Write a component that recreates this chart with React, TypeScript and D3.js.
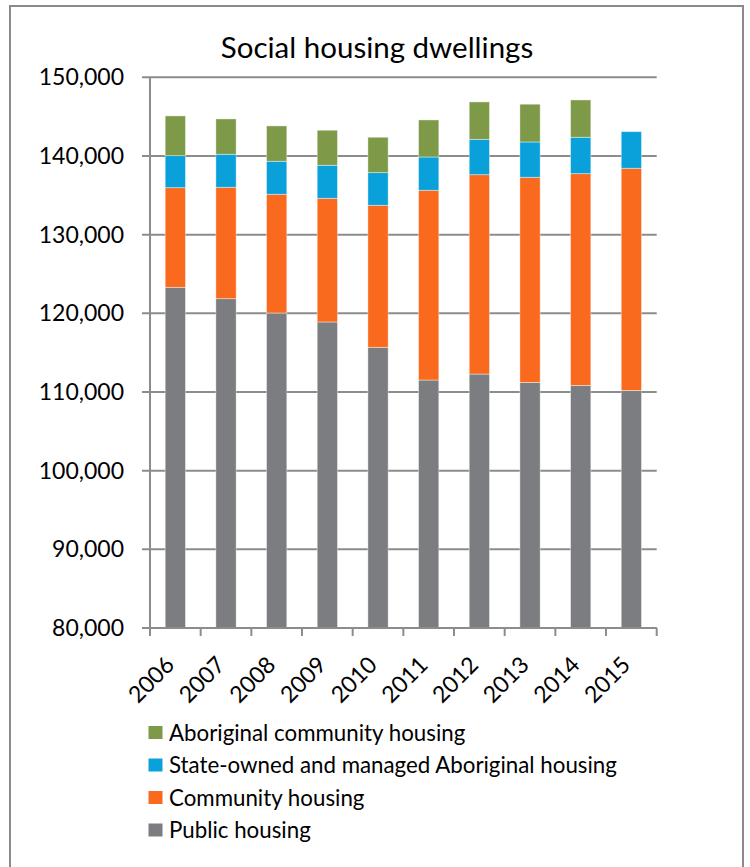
import React from "react";
import * as d3 from "d3";

const years = ["2006", "2007", "2008", "2009", "2010", "2011", "2012", "2013", "2014", "2015"];
const publicHousing = [123300, 121860, 120040, 118900, 115680, 111520, 112280, 111220, 110840, 110200];
const communityHousing = [12670, 14160, 15090, 15720, 18050, 24120, 25340, 26070, 26910, 28240];
const somih = [4070, 4200, 4200, 4200, 4150, 4230, 4500, 4490, 4630, 4650];
const aboriginalCommunity = [5050, 4490, 4490, 4450, 4500, 4710, 4750, 4800, 4740, 0];
const yTicks = [80000, 90000, 100000, 110000, 120000, 130000, 140000, 150000];

const seriesKeys = ["public", "community", "somih", "aboriginal"];
const seriesNames = ["Public housing", "Community housing", "State-owned and managed Aboriginal housing", "Aboriginal community housing"];
const seriesColors = ["#7C7D81", "#FA6A1E", "#0AA1DB", "#7E9A49"];

const FONT = "Lato, 'Open Sans', sans-serif";

export default function App() {
  const W = 750, H = 867;
  const left = 150, right = 656.7, top = 77.3, bottom = 628;

  const rows = years.map((y, i) => ({
    year: y,
    public: publicHousing[i],
    community: communityHousing[i],
    somih: somih[i],
    aboriginal: aboriginalCommunity[i],
  }));
  const stack = d3.stack<any>().keys(seriesKeys)(rows);

  const x = d3.scaleBand<string>().domain(years).range([left, right]).paddingInner(0.6).paddingOuter(0.3);
  const y = d3.scaleLinear().domain([80000, 150000]).range([bottom, top]);
  const step = x.step();
  const bw = x.bandwidth();
  const boundaries = years.map((yr) => (x(yr) as number) - (step - bw) / 2).concat([right]);

  const fmt = d3.format(",");
  const legendOrder = [3, 2, 1, 0];

  return (
    <svg width={W} height={H} style={{ position: "absolute", left: 0, top: 0, background: "#fff" }} fontFamily={FONT}>
      <rect x={10} y={6} width={733} height={880} fill="#fff" stroke="#8a8a8a" strokeWidth={2} />
      <text x={377} y={58} textAnchor="middle" fontSize={29.5} fill="#000">Social housing dwellings</text>

      {yTicks.map((t) => (
        <g key={t}>
          <line x1={left - 8} x2={right} y1={y(t)} y2={y(t)} stroke="#8c8c8c" strokeWidth={2} />
          <text x={124} y={y(t)} dy="0.35em" textAnchor="end" fontSize={23} fill="#000">{fmt(t)}</text>
        </g>
      ))}

      {stack.map((s, si) => (
        <g key={s.key} fill={seriesColors[si]}>
          {s.map((d, i) => {
            const v = d[1] - d[0];
            if (v <= 0) return null;
            const y0 = y(Math.max(d[0], 80000));
            const y1 = y(d[1]);
            return (
              <rect key={i} x={x(years[i])} width={bw} y={y1} height={y0 - y1}
                stroke="#ffffff" strokeOpacity={0.5} strokeWidth={0.8} />
            );
          })}
        </g>
      ))}

      <line x1={left} x2={left} y1={top} y2={bottom} stroke="#8c8c8c" strokeWidth={2} />
      <line x1={left - 8} x2={right} y1={bottom} y2={bottom} stroke="#8c8c8c" strokeWidth={2} />
      {boundaries.map((bx, i) => (
        <line key={i} x1={bx} x2={bx} y1={bottom} y2={bottom + 8} stroke="#8c8c8c" strokeWidth={2} />
      ))}

      {years.map((yr) => {
        const cx = (x(yr) as number) + bw / 2;
        return (
          <text key={yr} transform={`translate(${cx - 11},${bottom + 27}) rotate(-45)`} textAnchor="end"
            dy="0.7em" fontSize={23} fill="#000">{yr}</text>
        );
      })}

      {legendOrder.map((si, k) => {
        const ly = 733 + k * 32.5;
        return (
          <g key={si}>
            <rect x={148.5} y={ly - 7} width={14} height={13} fill={seriesColors[si]} />
            <text x={169} y={ly} dy="0.35em" fontSize={22.3} fill="#000">{seriesNames[si]}</text>
          </g>
        );
      })}
    </svg>
  );
}
